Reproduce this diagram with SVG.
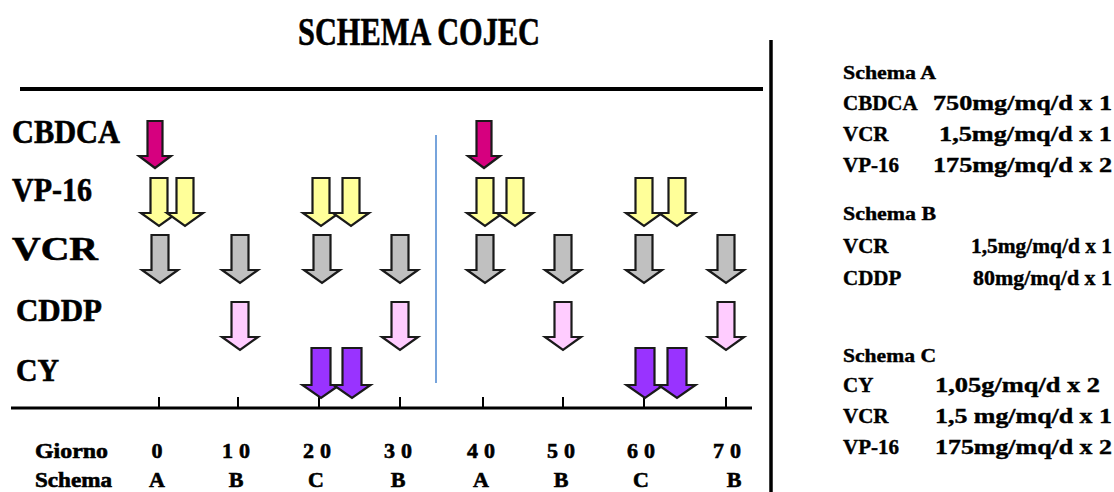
<svg xmlns="http://www.w3.org/2000/svg" xmlns:xlink="http://www.w3.org/1999/xlink" width="1114" height="492" viewBox="0 0 1114 492">
<style>
.t{font-family:"Liberation Serif","Times New Roman",serif;font-weight:bold;fill:#000;stroke:#000;stroke-width:0.6}
.arr{stroke:#1a1a1a;stroke-width:2.2;stroke-linejoin:miter}
.mag{fill:#d6007f}
.yel{fill:#ffff99}
.gry{fill:#c0c0c0}
.pnk{fill:#ffccff}
.pur{fill:#9933ff}
.ln{stroke:#000;fill:none}
</style>
<defs>
<path id="a" d="M-8.5,0 h17 v35 h9.5 L0,48 L-18,35 h9.5 z"/>
<path id="am" d="M-7.5,0 h15 v35 h8.5 L0,47 L-16,35 h8.5 z"/>
<path id="ap" d="M-9.5,0 h19 v37 h9 L0,50 L-18.5,37 h9 z"/>
</defs>
<g id="title"><text class="t" x="298" y="45" font-size="40" textLength="242" lengthAdjust="spacingAndGlyphs">SCHEMA COJEC</text></g>
<g id="frame">
<line class="ln" x1="20" y1="89" x2="763" y2="89" stroke-width="4"/>
<line class="ln" x1="771" y1="40" x2="771" y2="492" stroke-width="3.5"/>
<line class="ln" x1="11" y1="408" x2="752" y2="408" stroke-width="3"/>
<line x1="436" y1="135" x2="436" y2="383" stroke="#4a86d0" stroke-width="1.5"/>
<g stroke="#000" stroke-width="2">
<line x1="159" y1="397" x2="159" y2="408"/><line x1="238" y1="397" x2="238" y2="408"/>
<line x1="319" y1="397" x2="319" y2="408"/><line x1="400" y1="397" x2="400" y2="408"/>
<line x1="483" y1="397" x2="483" y2="408"/><line x1="563" y1="397" x2="563" y2="408"/>
<line x1="644" y1="397" x2="644" y2="408"/><line x1="726" y1="397" x2="726" y2="408"/>
</g>
</g>
<g id="labels">
<text class="t" x="12" y="143" font-size="34" textLength="108" lengthAdjust="spacingAndGlyphs">CBDCA</text>
<text class="t" x="12" y="201" font-size="34" textLength="80" lengthAdjust="spacingAndGlyphs">VP-16</text>
<text class="t" x="12" y="260" font-size="34" textLength="86" lengthAdjust="spacingAndGlyphs">VCR</text>
<text class="t" x="16" y="321" font-size="31" textLength="86" lengthAdjust="spacingAndGlyphs">CDDP</text>
<text class="t" x="16" y="381" font-size="32" textLength="43" lengthAdjust="spacingAndGlyphs">CY</text>
</g>
<g id="arrows" class="arr">
<use xlink:href="#am" x="155" y="121" class="mag"/>
<use xlink:href="#am" x="484" y="121" class="mag"/>
<use xlink:href="#a" x="159" y="178" class="yel"/><use xlink:href="#a" x="185" y="178" class="yel"/>
<use xlink:href="#a" x="321" y="178" class="yel"/><use xlink:href="#a" x="351" y="178" class="yel"/>
<use xlink:href="#a" x="485" y="178" class="yel"/><use xlink:href="#a" x="515" y="178" class="yel"/>
<use xlink:href="#a" x="644" y="178" class="yel"/><use xlink:href="#a" x="677" y="178" class="yel"/>
<use xlink:href="#a" x="160" y="235" class="gry"/><use xlink:href="#a" x="240" y="235" class="gry"/>
<use xlink:href="#a" x="322" y="235" class="gry"/><use xlink:href="#a" x="400" y="235" class="gry"/>
<use xlink:href="#a" x="485" y="235" class="gry"/><use xlink:href="#a" x="563" y="235" class="gry"/>
<use xlink:href="#a" x="644" y="235" class="gry"/><use xlink:href="#a" x="726" y="235" class="gry"/>
<use xlink:href="#a" x="240" y="302" class="pnk"/><use xlink:href="#a" x="400" y="302" class="pnk"/>
<use xlink:href="#a" x="563" y="302" class="pnk"/><use xlink:href="#a" x="726" y="302" class="pnk"/>
<use xlink:href="#ap" x="321" y="348" class="pur"/><use xlink:href="#ap" x="352" y="348" class="pur"/>
<use xlink:href="#ap" x="645" y="348" class="pur"/><use xlink:href="#ap" x="677" y="348" class="pur"/>
</g>
<g id="axis" class="t" font-size="22">
<text x="35" y="458" textLength="73" lengthAdjust="spacingAndGlyphs">Giorno</text>
<text x="35" y="487" textLength="77" lengthAdjust="spacingAndGlyphs">Schema</text>
<g text-anchor="middle">
<text x="157" y="458">0</text>
<text x="236" y="458" letter-spacing="6" dx="3">10</text>
<text x="317" y="458" letter-spacing="6" dx="3">20</text>
<text x="398" y="458" letter-spacing="6" dx="3">30</text>
<text x="481" y="458" letter-spacing="6" dx="3">40</text>
<text x="561" y="458" letter-spacing="6" dx="3">50</text>
<text x="641" y="458" letter-spacing="6" dx="3">60</text>
<text x="727" y="458" letter-spacing="6" dx="3">70</text>
<text x="157" y="487">A</text><text x="236" y="487">B</text><text x="316" y="487">C</text><text x="398" y="487">B</text>
<text x="481" y="487">A</text><text x="561" y="487">B</text><text x="641" y="487">C</text><text x="734" y="487">B</text>
</g>
</g>
<g id="legend" class="t" font-size="21" style="stroke-width:0.4">
<text x="843" y="79" font-size="19" textLength="93" lengthAdjust="spacingAndGlyphs">Schema A</text>
<text x="843" y="110">CBDCA</text><text x="933" y="110" textLength="179" lengthAdjust="spacingAndGlyphs">750mg/mq/d x 1</text>
<text x="843" y="141">VCR</text><text x="939" y="141" textLength="173" lengthAdjust="spacingAndGlyphs">1,5mg/mq/d x  1</text>
<text x="843" y="172">VP-16</text><text x="933" y="172" textLength="179" lengthAdjust="spacingAndGlyphs">175mg/mq/d x 2</text>
<text x="843" y="220" font-size="19" textLength="93" lengthAdjust="spacingAndGlyphs">Schema B</text>
<text x="843" y="253">VCR</text><text x="971" y="253" textLength="141" lengthAdjust="spacingAndGlyphs">1,5mg/mq/d x 1</text>
<text x="843" y="285">CDDP</text><text x="973" y="285" textLength="139" lengthAdjust="spacingAndGlyphs">80mg/mq/d x 1</text>
<text x="843" y="362" font-size="19" textLength="93" lengthAdjust="spacingAndGlyphs">Schema C</text>
<text x="843" y="392">CY</text><text x="935" y="392" textLength="165" lengthAdjust="spacingAndGlyphs">1,05g/mq/d x 2</text>
<text x="843" y="423">VCR</text><text x="935" y="423" textLength="177" lengthAdjust="spacingAndGlyphs">1,5 mg/mq/d x 1</text>
<text x="843" y="454">VP-16</text><text x="935" y="454" textLength="177" lengthAdjust="spacingAndGlyphs">175mg/mq/d x 2</text>
</g>
</svg>
